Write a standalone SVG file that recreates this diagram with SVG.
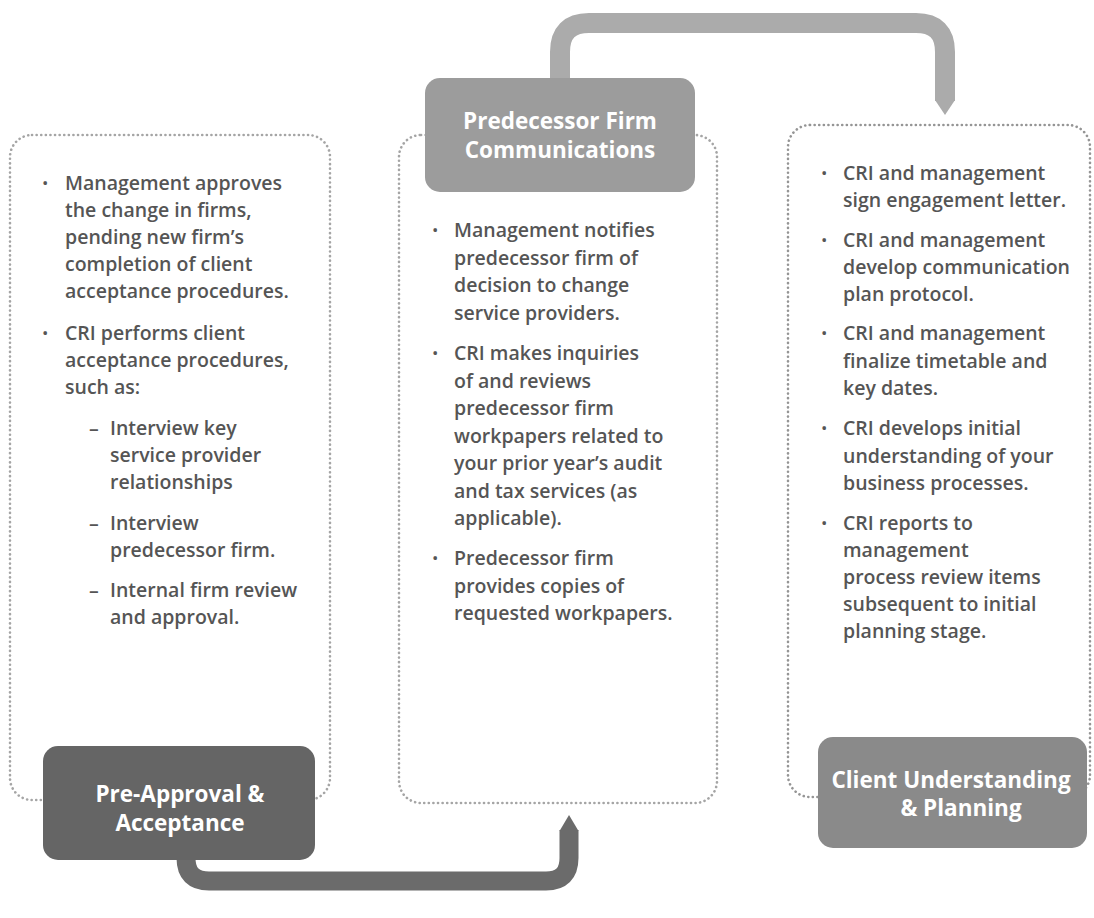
<svg xmlns="http://www.w3.org/2000/svg" width="1094" height="918" viewBox="0 0 1094 918">
<style>
.panel{fill:none;stroke:#a5a5a5;stroke-width:2.6;stroke-dasharray:0.1 4.5;stroke-linecap:round}
.panel.dark{stroke:#959595}
.t{font-family:"Open Sans","Liberation Sans",sans-serif;font-size:19.5px;font-weight:600;fill:#555}
.b{font-family:"Open Sans","Liberation Sans",sans-serif;font-size:17px;fill:#555}
.h{font-family:"Open Sans","Liberation Sans",sans-serif;font-size:22.5px;font-weight:700;fill:#fff;text-anchor:middle}
</style>
<rect width="1094" height="918" fill="#fff"/>
<g id="connectors">
  <path d="M560 82 V52 Q560 23 589 23 H916 Q945 23 945 52 V101" fill="none" stroke="#ababab" stroke-width="20"/>
  <polygon points="935,100 955,100 945,115" fill="#ababab"/>
  <path d="M186 858 V858 Q186 881 209 881 H546 Q569 881 569 858 V830" fill="none" stroke="#6b6b6b" stroke-width="19"/>
  <polygon points="559.5,831 578.5,831 569,815" fill="#6b6b6b"/>
</g>
<g id="panel-left">
  <rect class="panel" x="10" y="135" width="320" height="665" rx="22"/>
  <text class="b" x="42" y="189">•</text>
  <text class="t" x="65" y="190">Management approves</text>
  <text class="t" x="65" y="217">the change in firms,</text>
  <text class="t" x="65" y="244">pending new firm’s</text>
  <text class="t" x="65" y="271">completion of client</text>
  <text class="t" x="65" y="298">acceptance procedures.</text>
  <text class="b" x="42" y="339">•</text>
  <text class="t" x="65" y="340">CRI performs client</text>
  <text class="t" x="65" y="367">acceptance procedures,</text>
  <text class="t" x="65" y="394">such as:</text>
  <text class="t" x="89" y="435">–</text>
  <text class="t" x="110" y="435">Interview key</text>
  <text class="t" x="110" y="462">service provider</text>
  <text class="t" x="110" y="489">relationships</text>
  <text class="t" x="89" y="530">–</text>
  <text class="t" x="110" y="530">Interview</text>
  <text class="t" x="110" y="557">predecessor firm.</text>
  <text class="t" x="89" y="597">–</text>
  <text class="t" x="110" y="597">Internal firm review</text>
  <text class="t" x="110" y="624">and approval.</text>
</g>
<g id="panel-middle">
  <rect class="panel" x="399" y="135" width="318" height="668" rx="22"/>
  <text class="b" x="432" y="236">•</text>
  <text class="t" x="454" y="237">Management notifies</text>
  <text class="t" x="454" y="264.5">predecessor firm of</text>
  <text class="t" x="454" y="292">decision to change</text>
  <text class="t" x="454" y="319.5">service providers.</text>
  <text class="b" x="432" y="359">•</text>
  <text class="t" x="454" y="360">CRI makes inquiries</text>
  <text class="t" x="454" y="387.5">of and reviews</text>
  <text class="t" x="454" y="415">predecessor firm</text>
  <text class="t" x="454" y="442.5">workpapers related to</text>
  <text class="t" x="454" y="470">your prior year’s audit</text>
  <text class="t" x="454" y="497.5">and tax services (as</text>
  <text class="t" x="454" y="525">applicable).</text>
  <text class="b" x="432" y="564">•</text>
  <text class="t" x="454" y="565">Predecessor firm</text>
  <text class="t" x="454" y="592.5">provides copies of</text>
  <text class="t" x="454" y="620">requested workpapers.</text>
</g>
<g id="panel-right">
  <rect class="panel dark" x="788" y="125" width="302" height="672" rx="22"/>
  <text class="b" x="821" y="179">•</text>
  <text class="t" x="843" y="180">CRI and management</text>
  <text class="t" x="843" y="207">sign engagement letter.</text>
  <text class="b" x="821" y="246">•</text>
  <text class="t" x="843" y="247">CRI and management</text>
  <text class="t" x="843" y="274">develop communication</text>
  <text class="t" x="843" y="301">plan protocol.</text>
  <text class="b" x="821" y="339">•</text>
  <text class="t" x="843" y="340">CRI and management</text>
  <text class="t" x="843" y="367.5">finalize timetable and</text>
  <text class="t" x="843" y="395">key dates.</text>
  <text class="b" x="821" y="434">•</text>
  <text class="t" x="843" y="435">CRI develops initial</text>
  <text class="t" x="843" y="462.5">understanding of your</text>
  <text class="t" x="843" y="490">business processes.</text>
  <text class="b" x="821" y="529">•</text>
  <text class="t" x="843" y="530">CRI reports to</text>
  <text class="t" x="843" y="557">management</text>
  <text class="t" x="843" y="584">process review items</text>
  <text class="t" x="843" y="611">subsequent to initial</text>
  <text class="t" x="843" y="638">planning stage.</text>
</g>
<g id="node-predecessor">
  <rect x="425" y="78" width="270" height="114" rx="15" fill="#9c9c9c"/>
  <text class="h" x="560" y="129">Predecessor Firm</text>
  <text class="h" x="560" y="158">Communications</text>
</g>
<g id="node-preapproval">
  <rect x="43" y="746" width="272" height="114" rx="15" fill="#656565"/>
  <text class="h" x="180" y="802">Pre-Approval &amp;</text>
  <text class="h" x="180" y="831">Acceptance</text>
</g>
<g id="node-client">
  <rect x="818" y="737" width="269" height="111" rx="15" fill="#8a8a8a"/>
  <text class="h" x="951" y="788">Client Understanding</text>
  <text class="h" x="961" y="816">&amp; Planning</text>
</g>
</svg>
